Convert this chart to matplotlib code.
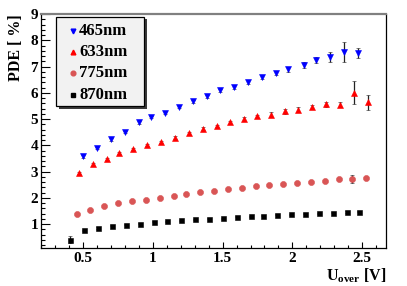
import numpy as np
import matplotlib
matplotlib.use("Agg")
import matplotlib.pyplot as plt
from matplotlib.patches import Rectangle
from matplotlib.ticker import MultipleLocator

plt.rcParams['font.family'] = ['Liberation Serif', 'DejaVu Serif']
plt.rcParams['font.weight'] = 'bold'
plt.rcParams['mathtext.fontset'] = 'custom'
plt.rcParams['mathtext.rm'] = 'Liberation Serif:bold'
plt.rcParams['mathtext.bf'] = 'Liberation Serif:bold'
plt.rcParams['mathtext.it'] = 'Liberation Serif:bold'

# 465nm
x465 = [0.50, 0.60, 0.70, 0.80, 0.90, 0.99, 1.09, 1.19, 1.29, 1.39, 1.48,
        1.58, 1.68, 1.78, 1.88, 1.97, 2.08, 2.17, 2.27, 2.37, 2.47]
y465 = [3.58, 3.90, 4.23, 4.51, 4.87, 5.08, 5.24, 5.47, 5.68, 5.86, 6.10,
        6.21, 6.42, 6.60, 6.74, 6.90, 7.06, 7.25, 7.36, 7.55, 7.52]
e465 = [0.05, 0.05, 0.05, 0.05, 0.05, 0.05, 0.05, 0.05, 0.06, 0.06, 0.06,
        0.08, 0.08, 0.08, 0.08, 0.10, 0.10, 0.12, 0.18, 0.37, 0.20]

# 633nm
x633 = [0.47, 0.57, 0.67, 0.76, 0.86, 0.96, 1.06, 1.16, 1.26, 1.36, 1.46,
        1.55, 1.65, 1.75, 1.85, 1.95, 2.04, 2.14, 2.24, 2.34, 2.44, 2.54]
y633 = [2.95, 3.27, 3.48, 3.69, 3.86, 4.01, 4.14, 4.29, 4.45, 4.63, 4.74,
        4.87, 5.00, 5.10, 5.17, 5.29, 5.36, 5.47, 5.56, 5.54, 6.00, 5.63]
e633 = [0.04, 0.04, 0.04, 0.04, 0.04, 0.04, 0.04, 0.05, 0.05, 0.05, 0.05,
        0.06, 0.06, 0.06, 0.08, 0.08, 0.08, 0.08, 0.10, 0.10, 0.43, 0.29]

# 775nm
x775 = [0.46, 0.55, 0.65, 0.75, 0.85, 0.95, 1.05, 1.15, 1.24, 1.34, 1.44,
        1.54, 1.64, 1.74, 1.83, 1.93, 2.03, 2.13, 2.23, 2.33, 2.43, 2.53]
y775 = [1.40, 1.55, 1.67, 1.81, 1.87, 1.92, 2.00, 2.06, 2.13, 2.22, 2.27,
        2.32, 2.37, 2.44, 2.47, 2.52, 2.56, 2.59, 2.65, 2.72, 2.70, 2.75]
e775 = [0.03] * 20 + [0.15, 0.04]

# 870nm
x870 = [0.41, 0.51, 0.61, 0.71, 0.81, 0.91, 1.01, 1.10, 1.20, 1.30, 1.40,
        1.50, 1.60, 1.70, 1.79, 1.89, 1.99, 2.09, 2.19, 2.29, 2.39, 2.48]
y870 = [0.40, 0.77, 0.85, 0.93, 0.97, 1.02, 1.08, 1.10, 1.14, 1.18, 1.20,
        1.23, 1.28, 1.29, 1.31, 1.35, 1.37, 1.40, 1.42, 1.43, 1.46, 1.47]
e870 = [0.14] + [0.02] * 21

labels = ['465nm', '633nm', '775nm', '870nm']
markers = ['v', '^', 'o', 's']
colors = ['#0000ff', '#ff0000', '#d95555', '#000000']
sizes = [5.0, 5.0, 4.4, 3.6]

W, H = 407, 286
fig = plt.figure(figsize=(W / 100, H / 100), dpi=100)
ax = fig.add_axes([41 / W, 1 - 247.7 / H, 345 / W, 233.7 / H])

series = [(x465, y465, e465), (x633, y633, e633), (x775, y775, e775), (x870, y870, e870)]
for (xs, ys, es), m, c, s in zip(series, markers, colors, sizes):
    ax.errorbar(xs, ys, yerr=es, fmt=m, color=c, ms=s, mec=c, mew=0.4,
                ecolor='#222222', elinewidth=0.9, capsize=1.2, capthick=0.9, zorder=3)

ax.set_xlim(0.2, 2.67)
ax.set_ylim(0.1, 9)
ax.set_xticks([0.5, 1, 1.5, 2, 2.5])
ax.set_xticklabels(['0.5', '1', '1.5', '2', '2.5'])
ax.set_yticks(range(1, 10))
ax.xaxis.set_minor_locator(MultipleLocator(0.1))
ax.yaxis.set_minor_locator(MultipleLocator(0.2))
ax.tick_params(axis='both', which='both', direction='in', width=0.8,
               labelsize=11, top=False, right=False)
ax.tick_params(axis='y', which='major', length=6.5, pad=2)
ax.tick_params(axis='y', which='minor', length=3.2)
ax.tick_params(axis='x', which='major', length=4.5, pad=3)
ax.tick_params(axis='x', which='minor', length=2.3)

ax.spines['top'].set_color('#808080')
ax.spines['top'].set_linewidth(1.6)
for side in ['left', 'bottom', 'right']:
    ax.spines[side].set_color('black')
    ax.spines[side].set_linewidth(0.9)

ax.set_ylabel('PDE [ %]', fontsize=11.5, fontweight='bold', loc='top')
ax.yaxis.set_label_coords(-0.05, 1.0)
ax.set_xlabel(r'U$_{\rm over}$ [V]', fontsize=11.5, fontweight='bold', loc='right')
ax.xaxis.set_label_coords(1.0, -0.08)

# legend box drawn by hand, ROOT style
lx0, ly0, lx1, ly1 = 56, 17, 144, 106
fig.patches.append(Rectangle((lx0 / W + 2.5 / W, 1 - (ly1 + 2.5) / H), (lx1 - lx0) / W, (ly1 - ly0) / H,
                             transform=fig.transFigure, facecolor='#3a3a3a', edgecolor='none', zorder=5))
fig.patches.append(Rectangle((lx0 / W, 1 - ly1 / H), (lx1 - lx0) / W, (ly1 - ly0) / H,
                             transform=fig.transFigure, facecolor='#f2f2f2', edgecolor='black',
                             linewidth=0.9, zorder=6))
for i, (lab, m, c) in enumerate(zip(labels, markers, colors)):
    yy = 1 - (31 + 21.2 * i) / H
    fig.lines.append(plt.Line2D([73 / W], [yy], marker=m, color=c, ms=3.4, ls='none',
                                transform=fig.transFigure, zorder=7))
    fig.text(79 / W, yy, lab, fontsize=12, fontweight='bold', va='center', ha='left', zorder=7)

fig.savefig('out.png', dpi=100)
